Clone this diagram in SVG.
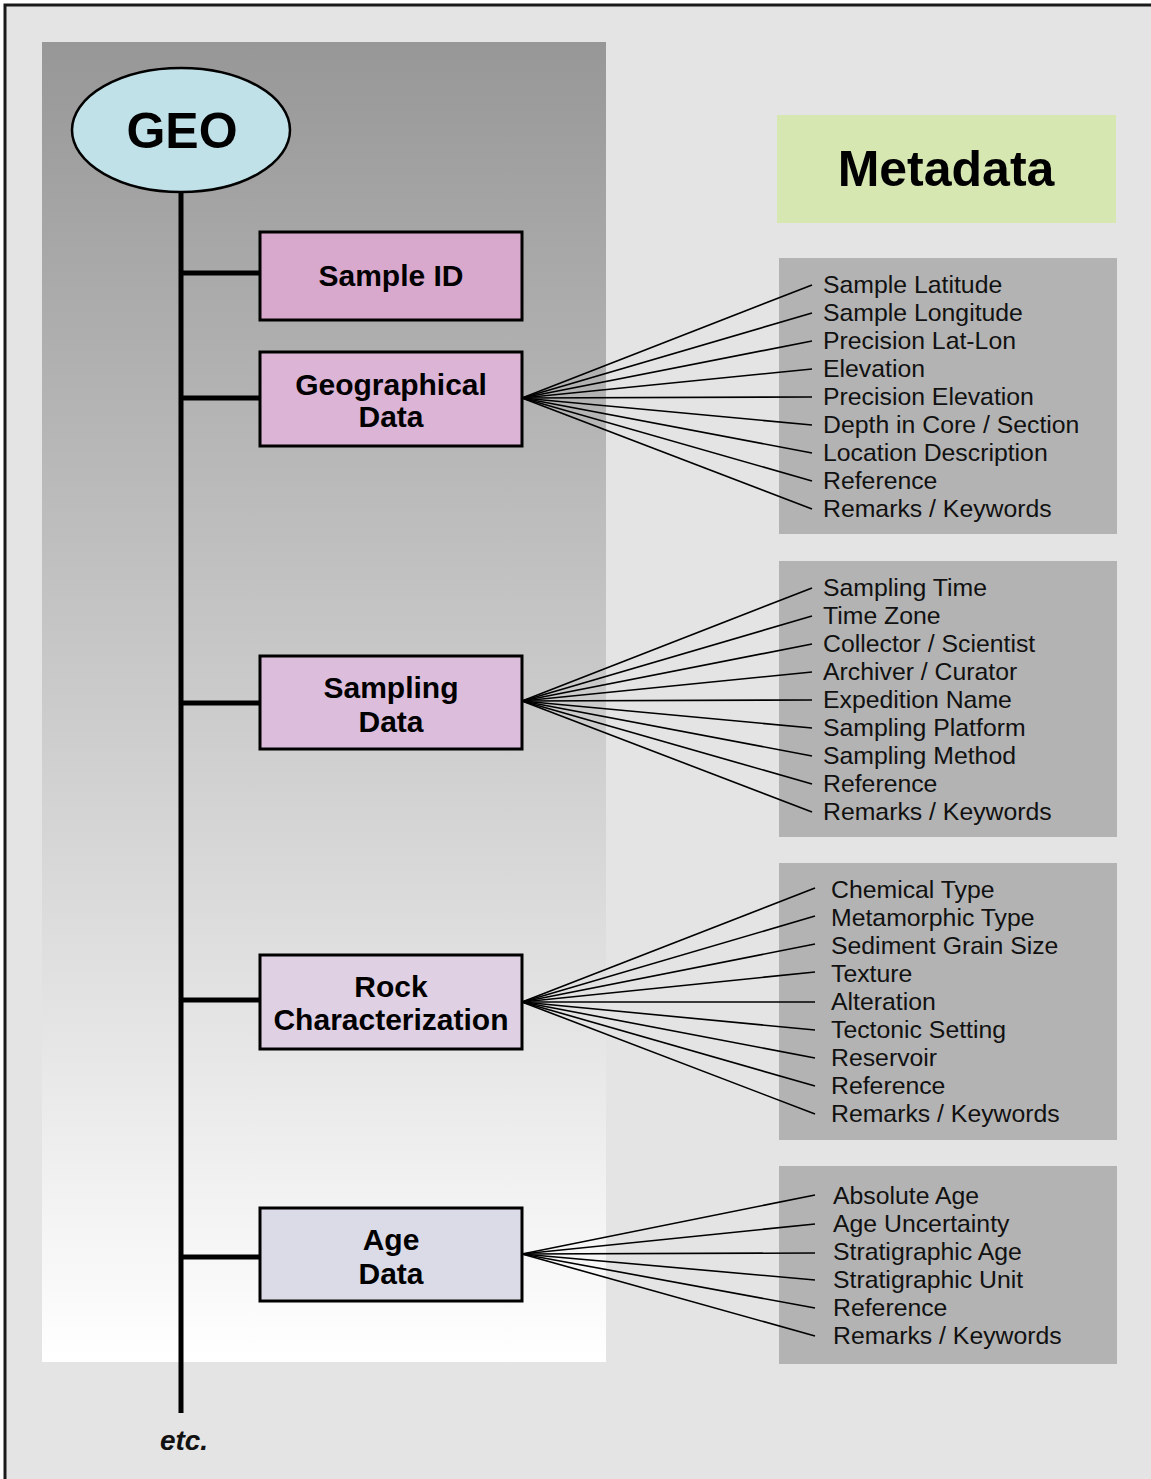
<svg xmlns="http://www.w3.org/2000/svg" width="1151" height="1479" viewBox="0 0 1151 1479">
<style>
.box{stroke:#000;stroke-width:3}
.bt{font-family:"Liberation Sans",Arial,sans-serif;font-weight:bold;font-size:30px;text-anchor:middle;fill:#000}
.big{font-size:50px}
.it{font-family:"Liberation Sans",Arial,sans-serif;font-size:24.8px;fill:#111}
.list{fill:#b3b3b3}
.fan line{stroke:#000;stroke-width:1.6}
.trunk{stroke:#000;stroke-width:5;fill:none}
</style>
<defs>
<linearGradient id="pg" x1="0" y1="0" x2="0" y2="1">
<stop offset="0" stop-color="#979797"/>
<stop offset="1" stop-color="#ffffff"/>
</linearGradient>
</defs>
<rect x="0" y="0" width="1151" height="1479" fill="#ffffff"/>
<rect x="5" y="5" width="1160" height="1490" fill="#e4e4e4" stroke="#1a1a1a" stroke-width="3"/>
<rect x="42" y="42" width="564" height="1320" fill="url(#pg)"/>

<g id="metadata">
<rect x="777" y="115" width="339" height="108" fill="#d6e7b1"/>
<text class="bt big" x="946" y="186">Metadata</text>
</g>

<g id="geo-list">
<rect class="list" x="779" y="258" width="338" height="276"/>
<text class="it" x="823" y="293">Sample Latitude</text>
<text class="it" x="823" y="321">Sample Longitude</text>
<text class="it" x="823" y="349">Precision Lat-Lon</text>
<text class="it" x="823" y="377">Elevation</text>
<text class="it" x="823" y="405">Precision Elevation</text>
<text class="it" x="823" y="433">Depth in Core / Section</text>
<text class="it" x="823" y="461">Location Description</text>
<text class="it" x="823" y="489">Reference</text>
<text class="it" x="823" y="517">Remarks / Keywords</text>
</g>
<g id="sampling-list">
<rect class="list" x="779" y="561" width="338" height="276"/>
<text class="it" x="823" y="596">Sampling Time</text>
<text class="it" x="823" y="624">Time Zone</text>
<text class="it" x="823" y="652">Collector / Scientist</text>
<text class="it" x="823" y="680">Archiver / Curator</text>
<text class="it" x="823" y="708">Expedition Name</text>
<text class="it" x="823" y="736">Sampling Platform</text>
<text class="it" x="823" y="764">Sampling Method</text>
<text class="it" x="823" y="792">Reference</text>
<text class="it" x="823" y="820">Remarks / Keywords</text>
</g>
<g id="rock-list">
<rect class="list" x="779" y="863" width="338" height="277"/>
<text class="it" x="831" y="898">Chemical Type</text>
<text class="it" x="831" y="926">Metamorphic Type</text>
<text class="it" x="831" y="954">Sediment Grain Size</text>
<text class="it" x="831" y="982">Texture</text>
<text class="it" x="831" y="1010">Alteration</text>
<text class="it" x="831" y="1038">Tectonic Setting</text>
<text class="it" x="831" y="1066">Reservoir</text>
<text class="it" x="831" y="1094">Reference</text>
<text class="it" x="831" y="1122">Remarks / Keywords</text>
</g>
<g id="age-list">
<rect class="list" x="779" y="1166" width="338" height="198"/>
<text class="it" x="833" y="1204">Absolute Age</text>
<text class="it" x="833" y="1232">Age Uncertainty</text>
<text class="it" x="833" y="1260">Stratigraphic Age</text>
<text class="it" x="833" y="1288">Stratigraphic Unit</text>
<text class="it" x="833" y="1316">Reference</text>
<text class="it" x="833" y="1344">Remarks / Keywords</text>
</g>

<g id="connectors">
<path class="trunk" d="M181 190V1413M181 273H260M181 398H260M181 703H260M181 1000H260M181 1257H260"/>
<g class="fan">
<line x1="522" y1="398" x2="812" y2="285"/><line x1="522" y1="398" x2="812" y2="313"/><line x1="522" y1="398" x2="812" y2="341"/><line x1="522" y1="398" x2="812" y2="369"/><line x1="522" y1="398" x2="812" y2="397"/><line x1="522" y1="398" x2="812" y2="425"/><line x1="522" y1="398" x2="812" y2="453"/><line x1="522" y1="398" x2="812" y2="481"/><line x1="522" y1="398" x2="812" y2="509"/>
<line x1="522" y1="701" x2="812" y2="588"/><line x1="522" y1="701" x2="812" y2="616"/><line x1="522" y1="701" x2="812" y2="644"/><line x1="522" y1="701" x2="812" y2="672"/><line x1="522" y1="701" x2="812" y2="700"/><line x1="522" y1="701" x2="812" y2="728"/><line x1="522" y1="701" x2="812" y2="756"/><line x1="522" y1="701" x2="812" y2="784"/><line x1="522" y1="701" x2="812" y2="812"/>
<line x1="522" y1="1002" x2="815" y2="888"/><line x1="522" y1="1002" x2="815" y2="916"/><line x1="522" y1="1002" x2="815" y2="944"/><line x1="522" y1="1002" x2="815" y2="972"/><line x1="522" y1="1002" x2="815" y2="1002"/><line x1="522" y1="1002" x2="815" y2="1030"/><line x1="522" y1="1002" x2="815" y2="1058"/><line x1="522" y1="1002" x2="815" y2="1086"/><line x1="522" y1="1002" x2="815" y2="1114"/>
<line x1="522" y1="1254" x2="815" y2="1195"/><line x1="522" y1="1254" x2="815" y2="1224"/><line x1="522" y1="1254" x2="815" y2="1253"/><line x1="522" y1="1254" x2="815" y2="1280"/><line x1="522" y1="1254" x2="815" y2="1308"/><line x1="522" y1="1254" x2="815" y2="1336"/>
</g>
</g>

<g id="geo">
<ellipse cx="181" cy="130" rx="109" ry="62" fill="#c1e1e9" stroke="#000" stroke-width="2.5"/>
<text class="bt big" x="182" y="148">GEO</text>
</g>

<g id="sample-id">
<rect class="box" x="260" y="232" width="262" height="88" fill="#d9a9cd"/>
<text class="bt" x="391" y="286">Sample ID</text>
</g>
<g id="geographical-data">
<rect class="box" x="260" y="352" width="262" height="94" fill="#dbb4d6"/>
<text class="bt" x="391" y="395">Geographical</text>
<text class="bt" x="391" y="427">Data</text>
</g>
<g id="sampling-data">
<rect class="box" x="260" y="656" width="262" height="93" fill="#dcbddc"/>
<text class="bt" x="391" y="698">Sampling</text>
<text class="bt" x="391" y="732">Data</text>
</g>
<g id="rock-characterization">
<rect class="box" x="260" y="955" width="262" height="94" fill="#dfd0e3"/>
<text class="bt" x="391" y="997">Rock</text>
<text class="bt" x="391" y="1030">Characterization</text>
</g>
<g id="age-data">
<rect class="box" x="260" y="1208" width="262" height="93" fill="#dadbe7"/>
<text class="bt" x="391" y="1250">Age</text>
<text class="bt" x="391" y="1284">Data</text>
</g>

<g id="etc">
<text x="184" y="1450" font-family="Liberation Sans, Arial, sans-serif" font-style="italic" font-weight="bold" font-size="28" text-anchor="middle" fill="#111">etc.</text>
</g>
</svg>
